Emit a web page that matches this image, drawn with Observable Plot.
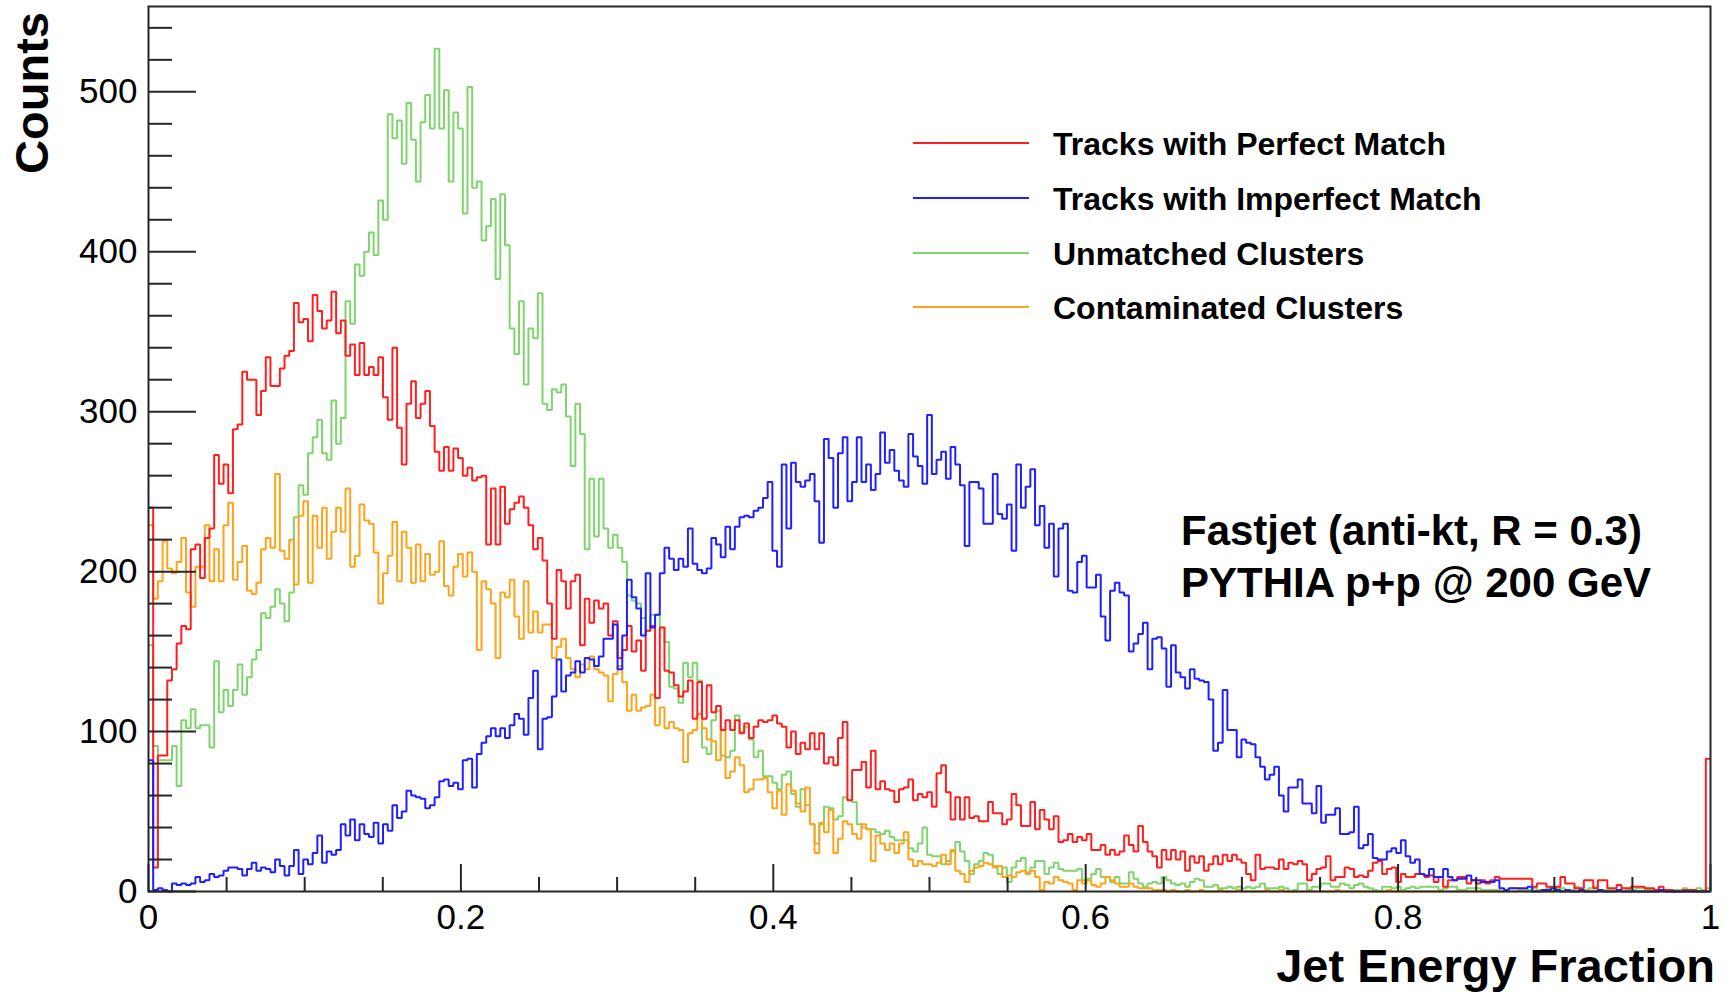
<!DOCTYPE html>
<html><head><meta charset="utf-8">
<script src="https://cdn.jsdelivr.net/npm/d3@7"></script>
<script src="https://cdn.jsdelivr.net/npm/@observablehq/plot@0.6"></script>
<style>
html,body{margin:0;padding:0;background:#fff;}
#chart{position:relative;width:1733px;height:995px;}
</style></head><body><div id="chart"></div>
<script>
// ---- data: 333 bins over [0, 1] ----
const nBins = 333;
const perfectMatch = [
240,15,85,85,132,139,155,166,164,214, 217,196,221,227,273,255,267,249,289,292,
325,320,320,298,313,334,316,316,327,335, 338,368,356,358,344,373,363,352,357,375,
349,357,335,342,323,343,323,328,323,334, 309,295,340,290,267,305,319,296,305,313,
291,275,263,278,263,277,271,260,265,257, 259,260,217,252,217,253,230,239,243,247,
240,229,214,221,207,180,158,201,194,177, 194,198,154,183,168,182,177,180,160,169,
146,151,166,150,157,138,163,166,121,165, 138,137,129,122,125,132,108,131,108,129,
112,116,101,107,101,107,99,105,96,103, 107,106,107,110,105,103,90,100,86,93,
89,99,89,99,80,84,79,96,106,57, 76,76,81,65,88,64,69,64,63,56,
64,65,70,57,61,59,62,53,74,79, 62,45,59,45,59,46,47,44,44,56,
49,49,42,45,61,54,41,41,56,39, 51,45,39,47,31,32,36,31,34,32,
36,26,26,29,23,26,23,25,35,29, 25,41,31,25,22,15,26,20,26,20,
25,13,22,18,22,13,17,22,17,23, 19,23,20,18,11,7,23,14,15,15,
14,20,14,18,17,19,17,7,11,14, 15,22,7,9,9,15,14,9,10,9,
13,18,19,11,14,15,6,11,9,9, 11,11,9,10,6,9,3,7,7,9,
9,5,7,5,7,5,7,9,8,8, 8,8,8,8,8,3,5,5,3,3,
3,9,5,5,2,2,7,7,2,7, 7,2,2,4,2,2,3,3,3,2,
2,1,3,1,1,0,0,1,1,1, 0,0,83];
const imperfectMatch = [
82,1,2,1,0,5,4,5,4,5, 9,6,7,11,9,10,13,15,15,14,
10,14,18,13,15,14,12,20,16,10, 16,26,11,20,17,24,35,18,25,23,
26,42,35,45,32,42,36,34,43,30, 42,38,54,46,50,63,60,59,58,52,
54,59,69,70,66,68,64,82,83,65, 86,93,97,102,97,102,96,104,111,108,
98,121,138,89,108,109,122,145,125,135, 137,144,137,146,145,141,147,158,158,167,
139,160,195,184,177,160,199,165,173,199, 215,208,201,208,203,227,205,201,199,202,
221,217,209,228,214,228,234,235,234,238, 240,246,256,213,203,267,227,268,256,253,
257,261,244,218,283,271,240,274,284,244, 256,284,256,267,251,261,287,268,276,263,
257,253,286,272,266,255,298,261,270,275, 258,278,267,254,216,256,256,252,230,230,
261,236,233,242,213,267,240,253,264,229, 241,215,230,197,227,230,188,187,206,210,
190,190,198,172,157,188,193,187,185,150, 155,161,168,139,158,159,152,128,154,137,
134,127,139,133,132,131,120,88,93,126, 101,101,84,95,93,92,84,78,70,73,
78,60,50,65,65,70,55,55,49,66, 43,48,48,52,36,36,37,53,27,29,
36,21,20,20,25,27,24,32,22,18, 20,11,10,14,9,9,14,9,7,8,
8,10,7,7,6,6,6,7,2,1, 2,2,2,2,3,0,0,1,1,2,
1,0,1,0,0,1,0,0,0,1, 0,0,0,1,0,0,0,0,0,0,
0,0,1,0,0,0,0,0,0,0, 0,0,0];
const unmatchedClusters = [
154,91,82,82,82,91,66,107,102,114, 102,104,104,90,144,112,126,116,126,142,
123,134,145,151,174,171,178,189,180,169, 187,234,254,248,274,284,295,274,270,307,
280,296,369,355,392,385,400,412,398,432, 420,486,471,482,455,493,470,444,481,498,
477,527,477,501,444,487,477,424,503,440, 444,407,416,433,383,436,404,352,336,369,
317,352,346,374,305,301,314,312,317,297, 266,305,286,214,258,222,258,227,215,223,
215,206,185,182,180,171,163,173,173,165, 156,128,127,118,143,134,143,132,90,86,
107,113,85,84,88,110,100,103,95,84, 88,72,72,68,64,73,75,61,53,64,
54,42,30,42,53,52,45,47,59,57, 56,42,40,39,39,37,36,38,34,32,
32,32,27,25,30,40,23,22,22,17, 19,25,31,25,19,11,17,19,24,23,
16,11,15,6,15,19,21,12,15,19, 19,11,15,18,14,13,13,13,14,7,
8,11,14,9,9,6,9,5,5,12, 8,5,3,5,6,5,9,7,5,4,
5,3,6,8,7,3,3,4,2,2, 3,2,3,2,3,2,3,5,2,2,
2,3,2,0,1,5,5,1,3,3, 5,5,3,3,5,4,2,4,5,3,
2,1,0,3,3,2,3,1,2,3, 2,3,3,3,3,1,2,3,3,1,
1,2,2,2,1,1,1,1,0,1, 2,2,1,1,1,2,1,1,2,0,
2,2,1,1,3,1,1,2,3,1, 1,1,1,1,2,1,1,2,2,1,
1,1,1,1,1,1,1,2,1,1, 2,1,2];
const contaminatedClusters = [
229,183,194,219,202,199,206,221,187,178, 203,203,229,194,214,194,229,243,195,206,
216,188,186,193,214,221,215,261,213,208, 220,192,235,244,193,235,215,240,208,225,
240,225,252,203,210,242,232,230,212,180, 199,210,231,194,225,215,193,217,194,211,
198,200,219,191,185,203,211,197,212,200, 151,194,189,180,146,187,184,195,172,158,
194,162,175,162,167,167,146,153,158,146, 139,134,142,139,147,139,137,135,119,136,
141,131,113,123,113,115,116,123,104,115, 102,106,102,101,81,99,101,111,102,95,
94,82,101,71,75,84,79,62,64,70, 70,71,62,52,63,48,67,63,55,50,
65,42,24,43,37,51,24,33,44,42, 36,33,42,39,19,35,30,26,30,24,
30,37,20,16,19,17,17,16,18,23, 17,26,13,11,6,13,15,16,18,17,
15,16,9,10,9,12,13,11,13,9, 1,6,5,9,7,6,5,1,7,5,
7,4,3,5,9,7,5,3,3,5, 3,2,2,2,1,1,1,0,1,0,
0,1,0,0,1,0,0,0,1,0, 0,0,1,0,0,0,0,0,1,0,
0,1,0,0,0,0,0,0,0,0, 0,0,0,1,0,0,0,0,0,0,
0,0,0,0,1,0,0,0,0,0, 0,0,0,0,0,0,0,0,0,0,
0,0,0,0,0,0,0,0,0,0, 0,0,1,0,0,0,0,0,0,0,
0,0,0,0,0,0,0,0,0,0, 0,0,0,0,0,0,0,0,0,0,
0,0,0,0,0,0,0,0,0,0, 0,0,0];

const seriesNames = ["Tracks with Perfect Match", "Tracks with Imperfect Match", "Unmatched Clusters", "Contaminated Clusters"];
const seriesColors = ["#ff1f1f", "#1f1fff", "#7fd46e", "#ffa31a"];
const seriesValues = [perfectMatch, imperfectMatch, unmatchedClusters, contaminatedClusters];
const drawOrder = [2, 3, 0, 1];

const xMajorTicks = [0, 0.2, 0.4, 0.6, 0.8, 1];
const xTickLabels = ["0", "0.2", "0.4", "0.6", "0.8", "1"];
const xMinorTicks = [0.05,0.1,0.15,0.25,0.3,0.35,0.45,0.5,0.55,0.65,0.7,0.75,0.85,0.9,0.95];
const yMajorTicks = [0, 100, 200, 300, 400, 500];
const yMinorTicks = [20,40,60,80,120,140,160,180,220,240,260,280,320,340,360,380,420,440,460,480,520,540];
const yMax = 553.35;
const xTitle = "Jet Energy Fraction";
const yTitle = "Counts";
const noteLines = ["Fastjet (anti-kt, R = 0.3)", "PYTHIA p+p @ 200 GeV"];

// ---- build rows ----
function toRows(values, name) {
  const rows = values.map((v, i) => ({x: i / nBins, y: v, series: name}));
  rows.push({x: 1, y: values[values.length - 1], series: name});
  return rows;
}

const W = 1733, H = 995, mL = 148, mR = 23, mT = 6, mB = 104;
const innerW = W - mL - mR, innerH = H - mT - mB;
const axisColor = "#262626";
const font = "'Liberation Sans', Arial, Helvetica, sans-serif";

const lineMarks = drawOrder.map(k => Plot.line(toRows(seriesValues[k], seriesNames[k]), {
  x: "x", y: "y", curve: "step-after", stroke: seriesColors[k], strokeWidth: 2,
  strokeLinejoin: "miter", strokeLinecap: "butt"
}));

const chart = Plot.plot({
  width: W, height: H,
  marginLeft: mL, marginRight: mR, marginTop: mT, marginBottom: mB,
  style: {fontFamily: font, background: "#fff", overflow: "visible", color: "#000"},
  x: {domain: [0, 1]},
  y: {domain: [0, yMax]},
  marks: [
    Plot.axisX(xMajorTicks, {tickSize: 0, tickPadding: 13, fontSize: 35, label: null,
      tickFormat: d => xTickLabels[xMajorTicks.indexOf(d)], fill: "#000"}),
    Plot.axisY(yMajorTicks, {tickSize: 0, tickPadding: 11, fontSize: 35, label: null,
      tickFormat: d => String(d), fill: "#000"}),
    ...lineMarks,
    Plot.tickX(xMinorTicks, {x: d => d, stroke: axisColor, strokeWidth: 2, insetTop: innerH - 14}),
    Plot.tickX(xMajorTicks, {x: d => d, stroke: axisColor, strokeWidth: 2, insetTop: innerH - 27}),
    Plot.tickY(yMinorTicks, {y: d => d, stroke: axisColor, strokeWidth: 2, insetRight: innerW - 24}),
    Plot.tickY(yMajorTicks, {y: d => d, stroke: axisColor, strokeWidth: 2, insetRight: innerW - 48}),
    Plot.frame({stroke: axisColor, strokeWidth: 2})
  ]
});

document.getElementById("chart").appendChild(chart);

// ---- titles, legend, annotation ----
const svg = d3.select(chart);
svg.append("text")
  .attr("transform", "translate(48,12) rotate(-90)")
  .attr("text-anchor", "end")
  .attr("font-family", font).attr("font-weight", "bold").attr("font-size", 47)
  .attr("fill", "#000").text(yTitle);
svg.append("text")
  .attr("x", 1715).attr("y", 982)
  .attr("text-anchor", "end")
  .attr("font-family", font).attr("font-weight", "bold").attr("font-size", 47)
  .attr("fill", "#000").text(xTitle);

const legendYs = [143, 198, 253, 307];
seriesNames.forEach((name, k) => {
  svg.append("line")
    .attr("x1", 913).attr("x2", 1029).attr("y1", legendYs[k]).attr("y2", legendYs[k])
    .attr("stroke", seriesColors[k]).attr("stroke-width", 2);
  svg.append("text")
    .attr("x", 1053).attr("y", legendYs[k]).attr("dy", "0.36em")
    .attr("text-anchor", "start")
    .attr("font-family", font).attr("font-weight", "bold").attr("font-size", 32)
    .attr("fill", "#000").text(name);
});

noteLines.forEach((t, i) => {
  svg.append("text")
    .attr("x", 1181).attr("y", 545 + i * 52)
    .attr("text-anchor", "start")
    .attr("font-family", font).attr("font-weight", "bold").attr("font-size", 42)
    .attr("fill", "#000").text(t);
});
</script>
</body></html>
